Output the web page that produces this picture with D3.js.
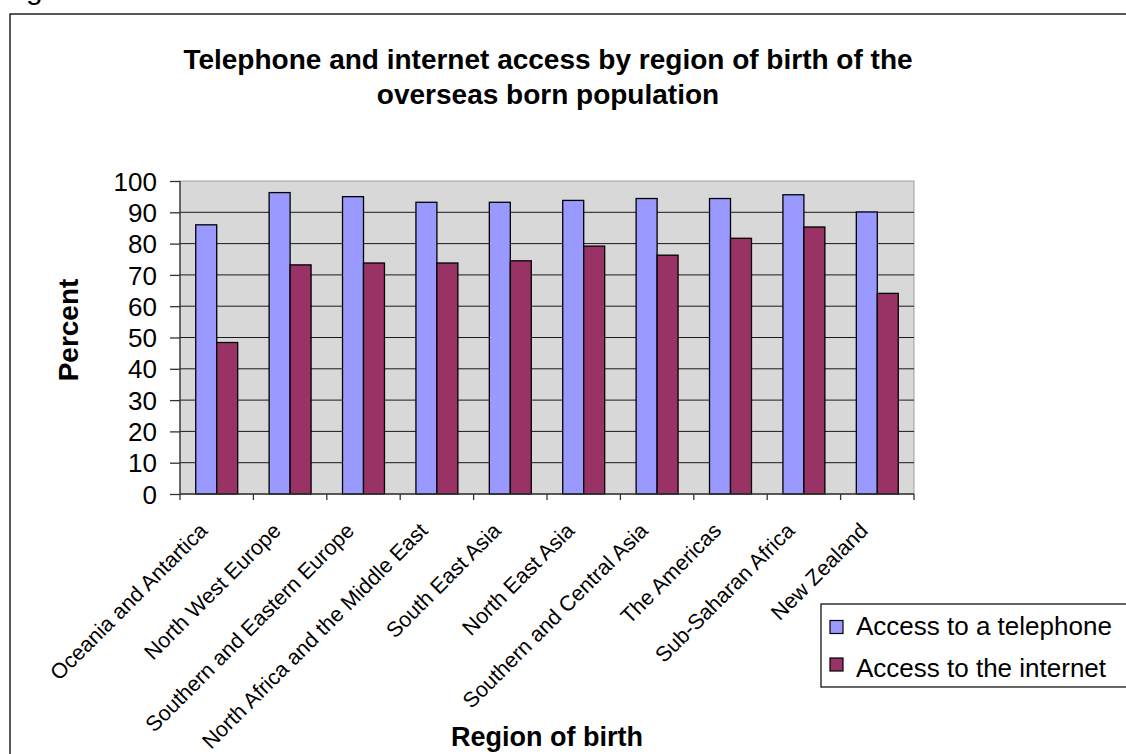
<!DOCTYPE html>
<html><head><meta charset="utf-8">
<script src="https://cdn.jsdelivr.net/npm/d3@7"></script>
<style>body{margin:0;background:#fff;} svg{display:block;font-family:"Liberation Sans",Arial,sans-serif;}</style>
</head><body>
<svg id="c" width="1126" height="754"></svg>
<script>
const categories = ["Oceania and Antartica","North West Europe","Southern and Eastern Europe","North Africa and the Middle East","South East Asia","North East Asia","Southern and Central Asia","The Americas","Sub-Saharan Africa","New Zealand"];
const telephone = [86, 96.3, 95, 93.2, 93.2, 93.8, 94.4, 94.4, 95.6, 90.1];
const internet = [48.4, 73.2, 73.8, 73.8, 74.5, 79.2, 76.3, 81.7, 85.3, 64.1];
const seriesNames = ["Access to a telephone","Access to the internet"];
const colors = ["#9999FF","#993366"];
const yTicks = [0,10,20,30,40,50,60,70,80,90,100];
const titleLines = ["Telephone and internet access by region of birth of the","overseas born population"];

const svg = d3.select("#c");
const L=180, R=914, T=181, B=494;
// outer frame
svg.append("rect").attr("x",10).attr("y",14).attr("width",1200).attr("height",800).attr("fill","#fff").attr("stroke","#000").attr("stroke-width",1.3);
svg.append("text").attr("x",26).attr("y",-1).attr("font-size",30).text("g");

const x = d3.scaleBand().domain(categories).range([L,R]).paddingInner(0).paddingOuter(0);
const y = d3.scaleLinear().domain([0,100]).range([B,T]);
const inner = d3.scaleBand().domain([0,1]).range([0,x.bandwidth()]).paddingInner(0).paddingOuter(0.75);

svg.append("rect").attr("x",L).attr("y",T).attr("width",R-L).attr("height",B-T).attr("fill","#d8d8d8").attr("stroke","#a0a0a0").attr("stroke-width",1);
svg.append("g").selectAll("line").data(yTicks.filter(d=>d>0&&d<100)).join("line")
  .attr("x1",L).attr("x2",R).attr("y1",d=>y(d)).attr("y2",d=>y(d)).attr("stroke","#1a1a1a").attr("stroke-width",1);

const data = categories.map((c,i)=>({c, v:[telephone[i],internet[i]]}));
const g = svg.append("g");
data.forEach(d=>{
  d.v.forEach((v,j)=>{
    g.append("rect").attr("x",x(d.c)+inner(j)).attr("y",y(v)).attr("width",inner.bandwidth()).attr("height",B-y(v))
      .attr("fill",colors[j]).attr("stroke","#000").attr("stroke-width",1.3);
  });
});

// y axis
const ya = svg.append("g").attr("transform",`translate(${L},0)`).call(d3.axisLeft(y).tickValues(yTicks).tickSize(10).tickPadding(13));
ya.select(".domain").attr("stroke","#333").attr("stroke-width",1.3).attr("d",`M0,${T}V${B}`);
ya.selectAll(".tick line").attr("stroke","#333").attr("stroke-width",1.3);
ya.selectAll("text").attr("font-size",26).attr("fill","#000").attr("font-family","Liberation Sans, Arial, sans-serif").attr("dy","0.35em");

// x axis
const xa = svg.append("g").attr("transform",`translate(0,${B})`);
xa.append("line").attr("x1",L).attr("x2",R).attr("stroke","#333").attr("stroke-width",1.3);
xa.selectAll("line.t").data(d3.range(categories.length+1)).join("line").attr("class","t")
  .attr("x1",i=>L+i*x.step()).attr("x2",i=>L+i*x.step()).attr("y1",0).attr("y2",6).attr("stroke","#333").attr("stroke-width",1.3);
xa.selectAll("text").data(categories).join("text")
  .attr("transform",d=>`translate(${x(d)+x.bandwidth()/2-8},${38}) rotate(-45)`)
  .attr("text-anchor","end").attr("font-size",21.5).attr("fill","#000").text(d=>d);

// title
svg.append("g").selectAll("text").data(titleLines).join("text")
  .attr("x",548).attr("y",(d,i)=>69+i*35).attr("text-anchor","middle").attr("font-weight","bold").attr("font-size",28).text(d=>d);

svg.append("text").attr("transform","translate(78,330) rotate(-90)").attr("text-anchor","middle").attr("font-weight","bold").attr("font-size",28).text("Percent");
svg.append("text").attr("x",547).attr("y",746).attr("text-anchor","middle").attr("font-weight","bold").attr("font-size",27).text("Region of birth");

// legend
const lg = svg.append("g");
lg.append("rect").attr("x",821).attr("y",604).attr("width",320).attr("height",83).attr("fill","#fff").attr("stroke","#000").attr("stroke-width",1.2);
seriesNames.forEach((s,i)=>{
  lg.append("rect").attr("x",830).attr("y",620.5+i*37.5).attr("width",13).attr("height",13).attr("fill",colors[i]).attr("stroke","#000").attr("stroke-width",1.2);
  lg.append("text").attr("x",856).attr("y",635+i*42).attr("font-size",26).text(s);
});
</script>
</body></html>
